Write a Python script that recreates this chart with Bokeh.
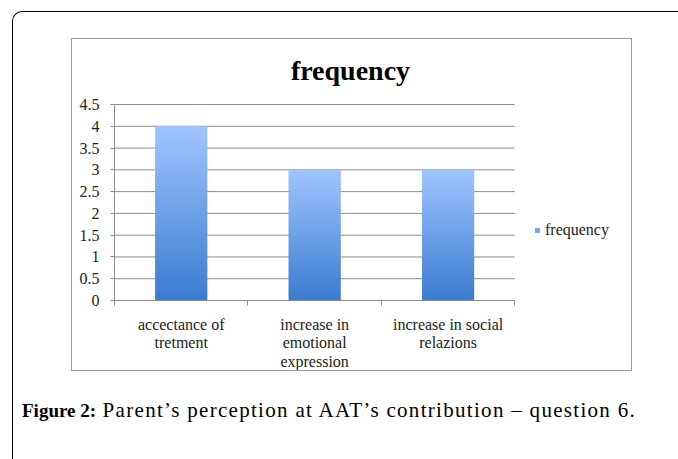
from bokeh.plotting import figure
from bokeh.layouts import column
from bokeh.models import Range1d, FixedTicker, Legend, LegendItem, Div, Label
from bokeh.embed import file_html
from bokeh.resources import INLINE
import numpy as np

# ---- data ----
categories = ["accectance of\ntretment", "increase in\nemotional\nexpression", "increase in social\nrelazions"]
values = [4, 3, 3]
series_name = "frequency"
y_ticks = [0, 0.5, 1, 1.5, 2, 2.5, 3, 3.5, 4, 4.5]
y_tick_labels = ["0", "0.5", "1", "1.5", "2", "2.5", "3", "3.5", "4", "4.5"]
title_text = "frequency"
caption_bold = "Figure 2:"
caption_text = "Parent\u2019s perception at AAT\u2019s contribution \u2013 question 6."

FONT = "Liberation Serif"
GRAY = "#8c8c8c"
BORDER = 1.5

# chart box (outer size incl. CSS border) and its drawable content
OW, OH = 561, 333
CW, CH = OW - 2 * BORDER, OH - 2 * BORDER
# plot area of the category axis (pixels inside the content)
PL, PT, PW, PH = 42, 65, 398, 196
# the drawing frame is enlarged to hold title and legend
FL, FT = PL, 2
FW, FH = CW - FL - 2, (PT + PH) - FT

n = len(categories)
ymax = y_ticks[-1]
x_end = n * FW / PW
y_end = ymax * FH / PH

p = figure(width=OW, height=OH, sizing_mode="fixed", title=None,
           min_border_left=FL, min_border_top=FT,
           min_border_right=int(CW - FL - FW), min_border_bottom=int(CH - FT - FH),
           x_range=Range1d(0, x_end), y_range=Range1d(0, y_end),
           output_backend="svg", toolbar_location=None,
           margin=(26, 0, 0, 58),
           styles={"border": "%spx solid #9a9a9a" % BORDER})
p.outline_line_color = None
p.background_fill_color = "white"
p.border_fill_color = "white"
p.xgrid.visible = False
p.ygrid.visible = False

# ---- gridlines (bounded to the category area) ----
p.segment(x0=[0] * len(y_ticks), x1=[n] * len(y_ticks), y0=y_ticks, y1=y_ticks,
          line_color=GRAY, line_width=1)

# ---- gradient bars (sliced) ----
N = 60
bottom_rgb = np.array([58, 123, 208])
top_rgb = np.array([160, 197, 255])
bar_w = 0.39
L, R, B, T, C = [], [], [], [], []
for i, v in enumerate(values):
    cx = i + 0.5
    edges = np.linspace(0, v, N + 1)
    step = v / N
    for k in range(N):
        t = (k + 0.5) / N
        rgb = (bottom_rgb + (top_rgb - bottom_rgb) * t).round().astype(int)
        L.append(cx - bar_w / 2)
        R.append(cx + bar_w / 2)
        B.append(edges[k])
        T.append(min(edges[k + 1] + step * 0.6, v))
        C.append("#%02x%02x%02x" % tuple(rgb))
bars = p.quad(left=L, right=R, bottom=B, top=T, fill_color=C, line_color=None)

# ---- axes ----
centers = [i + 0.5 for i in range(n)]
bounds = [float(i) for i in range(n + 1)]
xa = p.xaxis[0]
xa.bounds = (0, n)
xa.ticker = FixedTicker(ticks=centers, minor_ticks=bounds)
xa.major_label_overrides = dict(zip(centers, categories))
xa.major_tick_line_color = None
xa.minor_tick_out = 5
xa.minor_tick_in = 0
xa.minor_tick_line_color = GRAY
xa.axis_line_color = GRAY
xa.major_label_text_font = FONT
xa.major_label_text_font_size = "16px"
xa.major_label_text_line_height = 1.1
xa.major_label_text_color = "#222222"
xa.major_label_standoff = 9

ya = p.yaxis[0]
ya.bounds = (0, ymax)
ya.ticker = FixedTicker(ticks=y_ticks)
ya.major_label_overrides = dict(zip(y_ticks, y_tick_labels))
ya.major_tick_out = 4
ya.major_tick_in = 0
ya.major_tick_line_color = GRAY
ya.minor_tick_line_color = None
ya.axis_line_color = GRAY
ya.major_label_text_font = FONT
ya.major_label_text_font_size = "16px"
ya.major_label_text_color = "#222222"
ya.major_label_standoff = 11

# ---- title (inside the enlarged frame) ----
p.add_layout(Label(x=236, y=230, x_units="screen", y_units="screen",
                   text=title_text, text_align="center", text_baseline="alphabetic",
                   text_font=FONT, text_font_style="bold", text_font_size="28px",
                   text_color="black"))

# ---- legend ----
legend = Legend(items=[LegendItem(label=series_name, renderers=[bars], index=N // 2)],
                location=(420, 60),
                padding=0, margin=0, glyph_width=6, glyph_height=6,
                label_standoff=5, label_height=20,
                label_text_font=FONT, label_text_font_size="16px",
                label_text_color="#222222",
                border_line_color=None, background_fill_alpha=0)
p.add_layout(legend)

# ---- caption ----
caption = Div(text='<span style="font-weight:bold;font-size:19px;letter-spacing:0">%s</span> %s' % (caption_bold, caption_text),
              width=650, height=30, sizing_mode="fixed", margin=(27, 0, 0, 9),
              styles={"font-family": FONT, "font-size": "21px", "line-height": "24px",
                      "letter-spacing": "1.3px",
                      "white-space": "nowrap", "color": "black"})

root = column(p, caption, width=666, height=448, sizing_mode="fixed", margin=(11, 0, 0, 12),
              styles={"border-top": "1.6px solid black", "border-left": "1.6px solid black",
                      "border-top-left-radius": "10px", "background": "white"})

open("out.html", "w").write(file_html(root, INLINE))
